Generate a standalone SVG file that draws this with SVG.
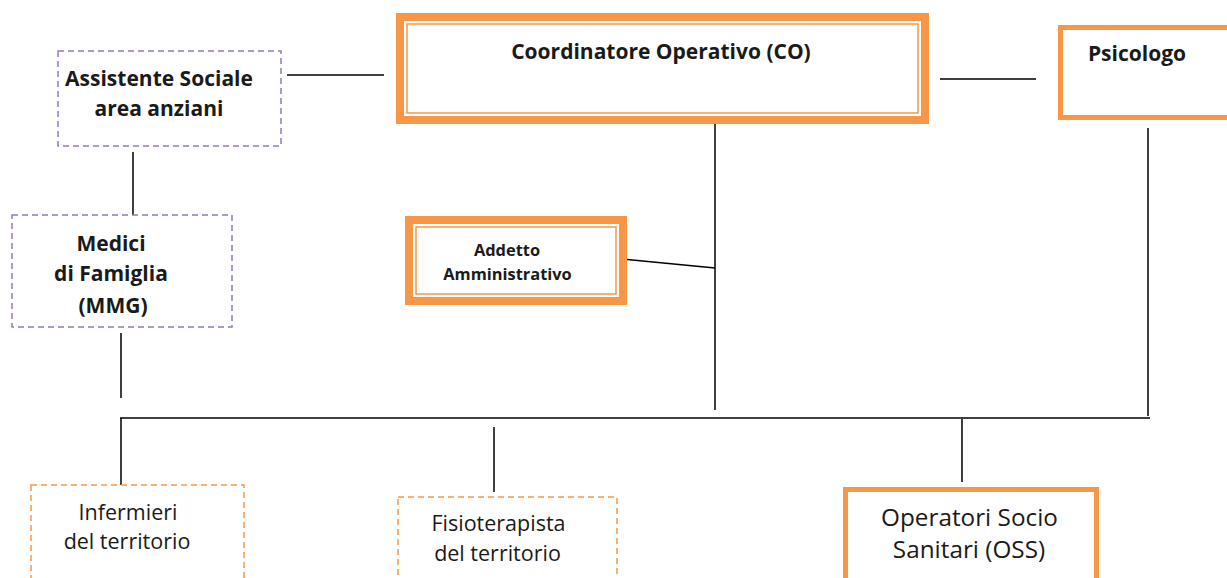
<svg xmlns="http://www.w3.org/2000/svg" width="1227" height="578" viewBox="0 0 1227 578">
<style>
.conn line{stroke:#000;stroke-width:1.5;fill:none}
.dbl{fill:#fff;stroke:#F79646;stroke-width:8}
.dblin{fill:none;stroke:#F79646;stroke-width:1.5}
.solid{fill:#fff;stroke:#F79646;stroke-width:5}
.dpur{fill:#fff;stroke:#9478BE;stroke-width:1.5;stroke-dasharray:6 4}
.dor{fill:#fff;stroke:#F79646;stroke-width:1.5;stroke-dasharray:6 4}
text{font-family:"Open Sans","Liberation Sans",sans-serif;fill:#1a1a1a;text-anchor:middle}
.b{font-weight:bold;font-size:21px}
.n{font-size:21.5px}
</style>
<g class="conn">
<line x1="287" y1="75" x2="384" y2="75"/>
<line x1="940" y1="79" x2="1036" y2="79"/>
<line x1="133" y1="152" x2="133" y2="215"/>
<line x1="715" y1="124" x2="715" y2="410"/>
<line x1="622" y1="259" x2="715" y2="268"/>
<line x1="121" y1="333" x2="121" y2="398"/>
<line x1="1148" y1="128" x2="1148" y2="416"/>
<line x1="120" y1="418" x2="1150" y2="418"/>
<line x1="121" y1="418" x2="121" y2="485"/>
<line x1="494" y1="427" x2="494" y2="492"/>
<line x1="962" y1="419" x2="962" y2="482"/>
</g>
<g id="co">
<rect class="dbl" x="400" y="17" width="525" height="103"/>
<rect class="dblin" x="407" y="24" width="511" height="89"/>
<text class="b" x="661" y="58.5">Coordinatore Operativo (CO)</text>
</g>
<g id="psicologo">
<rect class="solid" x="1060.5" y="27.5" width="175" height="90"/>
<text class="b" x="1137" y="60.5">Psicologo</text>
</g>
<g id="assistente">
<rect class="dpur" x="58" y="51" width="223" height="95"/>
<text class="b" x="159" y="85.5">Assistente Sociale</text>
<text class="b" x="159" y="115.5">area anziani</text>
</g>
<g id="medici">
<rect class="dpur" x="12" y="215" width="220" height="112"/>
<text class="b" x="111" y="250.5">Medici</text>
<text class="b" x="111" y="280.5">di Famiglia</text>
<text class="b" x="113" y="312.5">(MMG)</text>
</g>
<g id="addetto">
<rect class="dbl" x="409" y="220" width="214" height="81"/>
<rect class="dblin" x="416" y="227" width="200" height="67"/>
<text class="b" x="507" y="256" style="font-size:16.4px">Addetto</text>
<text class="b" x="507.5" y="280" style="font-size:16.4px">Amministrativo</text>
</g>
<g id="infermieri">
<rect class="dor" x="31" y="485" width="213" height="100"/>
<text class="n" x="128" y="519.5">Infermieri</text>
<text class="n" x="127" y="548.5">del territorio</text>
</g>
<g id="fisioterapista">
<rect class="dor" x="398" y="497" width="219" height="90"/>
<text class="n" x="498.5" y="530.5">Fisioterapista</text>
<text class="n" x="497.5" y="560.5">del territorio</text>
</g>
<g id="oss">
<rect class="solid" x="845.5" y="489.5" width="251" height="95"/>
<text x="969.5" y="525.5" font-size="24.3">Operatori Socio</text>
<text x="969" y="557.5" font-size="24.3">Sanitari (OSS)</text>
</g>
</svg>
